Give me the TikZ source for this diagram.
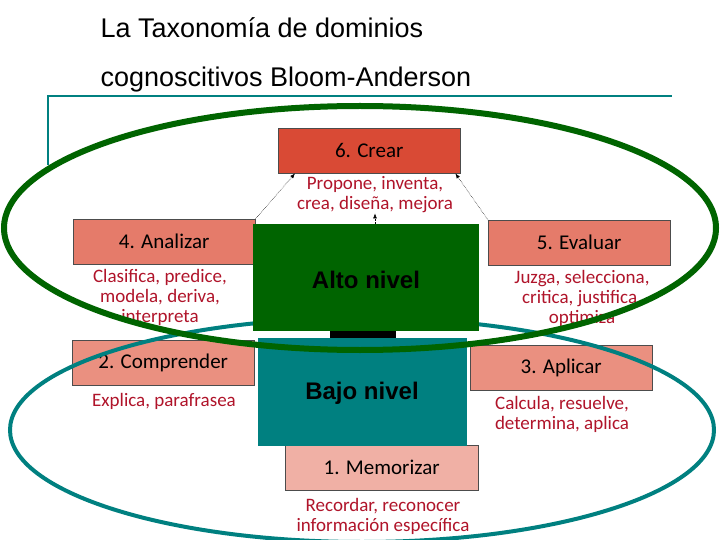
\documentclass[tikz,border=0pt]{standalone}
\usepackage{fontspec}
\setmainfont{Liberation Sans}
\newfontfamily\hand{Carlito}
\usetikzlibrary{arrows.meta}
\definecolor{crear}{RGB}{217,74,53}
\definecolor{mid}{RGB}{229,123,106}
\definecolor{low}{RGB}{234,144,128}
\definecolor{mem}{RGB}{240,176,165}
\definecolor{verbs}{RGB}{176,20,42}
\definecolor{alto}{RGB}{0,100,0}
\definecolor{bajo}{RGB}{0,128,128}
\tikzset{
  lvl/.style={draw=black!70, line width=0.4pt, minimum width=182pt, minimum height=45pt, anchor=north west, font=\hand\fontsize{21}{22}\selectfont, inner sep=0pt},
  verb/.style={text=verbs, font=\hand\fontsize{19}{20}\selectfont, align=center, inner sep=0pt},
  big/.style={anchor=north west, inner sep=0pt},
  bigt/.style={font=\bfseries\fontsize{24}{26}\selectfont},
  dots/.style={densely dotted, -{Latex[length=5pt]}, line width=0.5pt}
}
\begin{document}
\begin{tikzpicture}[x=1pt,y=-1pt]
\useasboundingbox (0,0) rectangle (720,540);
\fill[white] (0,0) rectangle (720,540);
\node[anchor=west,font=\fontsize{27}{28}\selectfont] (t1) at (97,28) {La Taxonomía de dominios};
\node[anchor=west,font=\fontsize{27}{28}\selectfont] (t2) at (97,80) {cognoscitivos Bloom-Anderson};
\draw[bajo, line width=2.5pt] (48,165) -- (48,96) -- (672,96);
\node[lvl, fill=crear] (c6) at (278,128) {6. Crear};
\node[lvl, fill=mid] (c4) at (73,219) {4. Analizar};
\node[lvl, fill=mid] (c5) at (488,220) {5. Evaluar};
\node[lvl, fill=low] (c2) at (72,340) {2. Comprender};
\node[lvl, fill=low] (c3) at (470,345) {3. Aplicar};
\node[lvl, fill=mem, minimum width=193pt] (c1) at (285,445) {1. Memorizar};
\node[verb] (v6) at (375,195) {Propone, inventa,\\crea, diseña, mejora};
\node[verb] (v4) at (160,297) {Clasifica, predice,\\modela, deriva,\\interpreta};
\node[verb] (v5) at (582,298) {Juzga, selecciona,\\critica, justifica,\\optimiza};
\node[verb] (v2) at (164,401) {Explica, parafrasea};
\node[verb] (v3) at (562,414) {Calcula, resuelve,\\determina, aplica};
\node[verb] (v1) at (383,516) {Recordar, reconocer\\información específica};
\draw[dots] (c4.north east) -- ([xshift=17pt]c6.south west);
\draw[dots] (c5.north west) -- ([xshift=-5pt]c6.south east);
\coordinate (a0) at (375,224);
\draw[dots] (a0) -- (v6.south);
\fill[black] (330,328) rectangle (396,342);
\draw[bajo, line width=4pt] (362,430) ellipse [x radius=352, y radius=112];
\node[big, fill=alto, minimum width=226pt, minimum height=107pt] (alto) at (253,224) {};
\node[bigt] (altot) at (366,280) {Alto nivel};
\node[big, fill=bajo, minimum width=209pt, minimum height=108pt] (bajo) at (258,338) {};
\node[bigt] (bajot) at (362,393) {Bajo nivel};
\draw[alto, line width=6pt] (360,228) ellipse [x radius=356, y radius=122];
\end{tikzpicture}
\end{document}
